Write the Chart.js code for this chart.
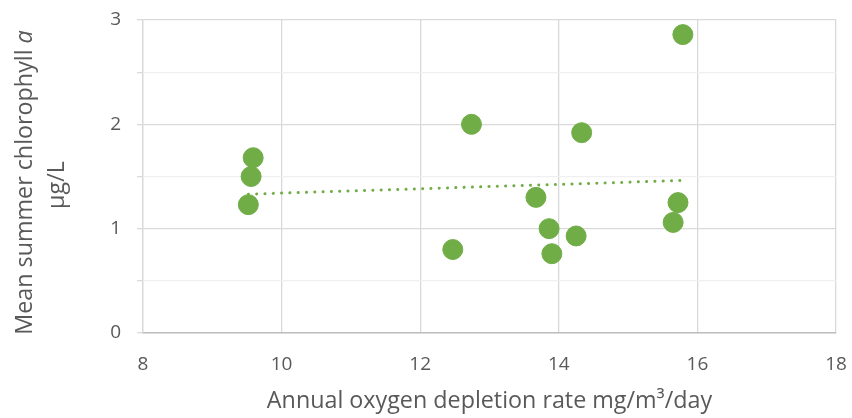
<!DOCTYPE html>
<html>
<head>
<meta charset="utf-8">
<script src="https://cdn.jsdelivr.net/npm/chart.js@4.4.1/dist/chart.umd.min.js"></script>
<style>
  html, body { margin: 0; padding: 0; background: #fff; }
  #wrap { width: 852px; height: 418px; }
</style>
</head>
<body>
<div id="wrap"><canvas id="chlChart" width="852" height="418"></canvas></div>
<script>
// values
const depletionRate = [9.52, 9.56, 9.59, 12.47, 12.74, 13.67, 13.86, 13.90, 14.25, 14.33, 15.65, 15.72, 15.79];
const chlorophyll = [1.23, 1.50, 1.68, 0.80, 2.00, 1.30, 1.00, 0.76, 0.93, 1.92, 1.06, 1.25, 2.86];
const xTickLabels = [8, 10, 12, 14, 16, 18];
const yTickLabels = [0, 1, 2, 3];

const textGrey = '#595959';
const fontName = 'Open Sans';
const titleSize = 23.3;

// linear trendline (least squares) from the points
const n = depletionRate.length;
const mx = depletionRate.reduce((a, b) => a + b, 0) / n;
const my = chlorophyll.reduce((a, b) => a + b, 0) / n;
let sxy = 0, sxx = 0;
for (let i = 0; i < n; i++) {
  sxy += (depletionRate[i] - mx) * (chlorophyll[i] - my);
  sxx += (depletionRate[i] - mx) ** 2;
}
const slope = sxy / sxx;
const icpt = my - slope * mx;
const xMin = Math.min(...depletionRate), xMax = Math.max(...depletionRate);
const trendPts = [xMin, xMax].map(x => ({ x: x, y: icpt + slope * x }));

// axis titles drawn by hand (italic "a", two-line y title)
const axisTitles = {
  id: 'axisTitles',
  afterDraw(chart) {
    const ctx = chart.ctx;
    const area = chart.chartArea;
    const plain = `${titleSize}px ${fontName}`;
    const ital = `italic ${titleSize}px ${fontName}`;
    ctx.save();
    ctx.fillStyle = textGrey;
    ctx.font = plain;
    ctx.textAlign = 'center';
    ctx.textBaseline = 'alphabetic';
    ctx.fillText('Annual oxygen depletion rate mg/m\u00b3/day', (area.left + area.right) / 2, 408);

    // y title, line 1
    ctx.translate(32, 182.5);
    ctx.rotate(-Math.PI / 2);
    ctx.textAlign = 'left';
    const part1 = 'Mean summer chlorophyll ';
    const w1 = ctx.measureText(part1).width;
    ctx.font = ital;
    const w2 = ctx.measureText('a').width;
    const start = -(w1 + w2) / 2;
    ctx.font = plain;
    ctx.fillText(part1, start, 0);
    ctx.font = ital;
    ctx.fillText('a', start + w1, 0);
    ctx.restore();

    // y title, line 2
    ctx.save();
    ctx.fillStyle = textGrey;
    ctx.translate(64, 185);
    ctx.rotate(-Math.PI / 2);
    ctx.font = plain;
    ctx.textAlign = 'center';
    ctx.textBaseline = 'alphabetic';
    ctx.fillText('\u00b5g/L', 0, 0);
    ctx.restore();
  }
};

const noOverhang = s => {
  s.paddingLeft = 0;
  s.paddingRight = 0;
  s.paddingTop = 0;
  s.paddingBottom = 0;
};

const ctx = document.getElementById('chlChart').getContext('2d');

const chlChart = new Chart(ctx, {
  type: 'scatter',
  data: {
    datasets: [{
      label: 'Trendline',
      type: 'line',
      data: trendPts,
      borderColor: '#70ad47',
      borderWidth: 3,
      borderDash: [0.1, 8.2],
      borderCapStyle: 'round',
      pointRadius: 0,
      fill: false,
      order: 0
    }, {
      label: 'Chlorophyll a',
      data: depletionRate.map((x, i) => ({ x: x, y: chlorophyll[i] })),
      backgroundColor: '#70ad47',
      borderColor: '#70ad47',
      pointRadius: 10,
      pointHoverRadius: 10,
      order: 1
    }]
  },
  options: {
    responsive: false,
    animation: false,
    layout: { padding: { top: 20, right: 16, left: 0, bottom: 0 } },
    plugins: {
      legend: { display: false },
      tooltip: { enabled: false }
    },
    scales: {
      x: {
        type: 'linear',
        min: 8,
        max: 18,
        afterFit: s => { s.height = 85; noOverhang(s); },
        ticks: {
          stepSize: 2,
          padding: 20,
          color: textGrey,
          font: { family: fontName, size: 19 },
          callback: v => xTickLabels.includes(v) ? String(v) : ''
        },
        grid: { color: '#d9d9d9', lineWidth: 1.3, drawTicks: false },
        border: { color: '#bfbfbf', width: 1.6 }
      },
      y: {
        min: 0,
        max: 3,
        afterFit: s => { s.width = 143; noOverhang(s); },
        ticks: {
          stepSize: 0.5,
          padding: 16,
          color: textGrey,
          font: { family: fontName, size: 19 },
          callback: v => yTickLabels.includes(v) ? String(v) : ''
        },
        grid: {
          color: c => Number.isInteger(c.tick.value) ? '#d9d9d9' : '#f0f0f0',
          lineWidth: 1.3,
          tickColor: '#d9d9d9',
          tickLength: 6
        },
        border: { color: '#d9d9d9', width: 1.3 }
      }
    }
  },
  plugins: [axisTitles]
});
</script>
</body>
</html>
